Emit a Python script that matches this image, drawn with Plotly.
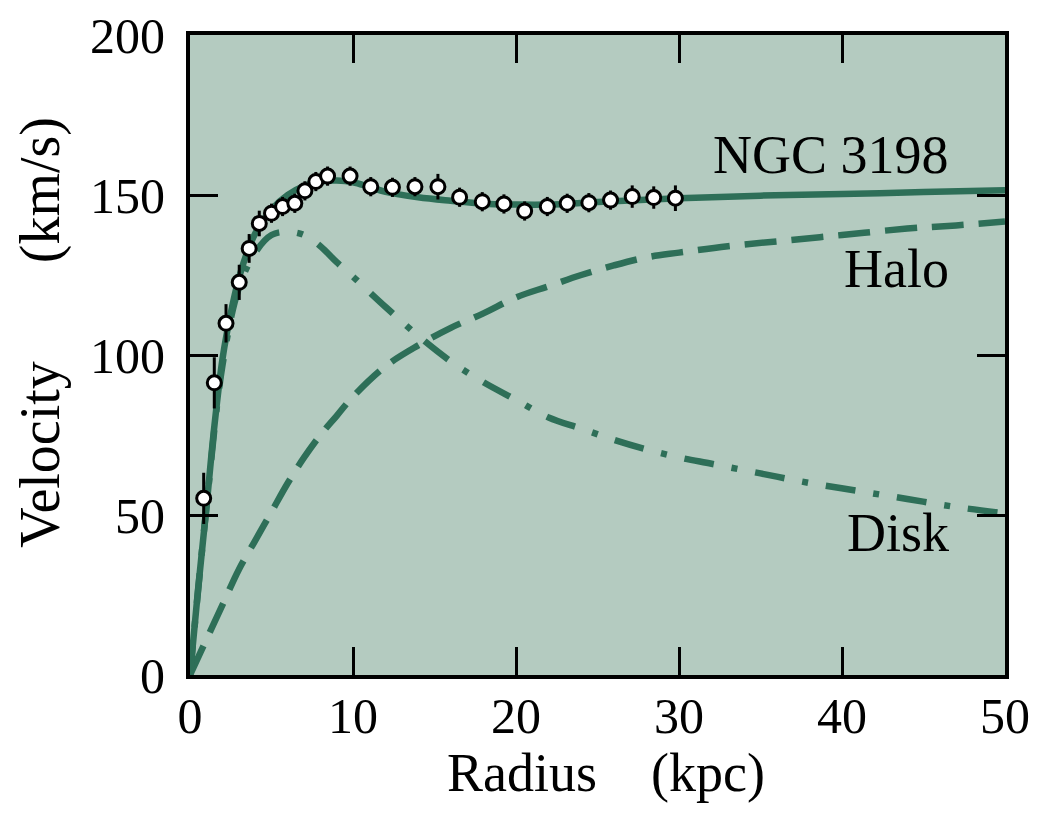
import plotly.graph_objects as go

# Observed rotation curve data (NGC 3198)
obs_r = [0.84, 1.49, 2.21, 3.02, 3.63, 4.25, 5.0, 5.68, 6.43, 7.05, 7.72, 8.44, 9.82, 11.09,
         12.42, 13.8, 15.21, 16.54, 17.93, 19.26, 20.53, 21.92, 23.14, 24.47, 25.8, 27.13, 28.45, 29.78]
obs_v = [55.2, 91.3, 109.9, 122.7, 133.3, 141.1, 144.3, 146.4, 147.4, 151.3, 154.2, 155.9, 155.9, 152.6,
         152.4, 152.6, 152.6, 149.3, 147.9, 147.2, 145.0, 146.4, 147.4, 147.6, 148.4, 149.5, 149.2, 149.0]
obs_err = [8, 8, 6, 5.5, 4.5, 4, 3, 3, 3, 3, 3, 3, 3, 3,
           3, 3, 4, 3, 3, 3, 3, 3, 3, 3, 3, 3.5, 3.5, 4]

# Model curves
total_r = [0, 0.5, 1, 1.5, 2, 2.5, 3, 3.5, 4, 4.5, 5, 6, 7, 8, 9, 10, 11, 12, 14, 16, 18, 20, 22, 25, 30, 35, 40, 45, 50]
total_v = [0, 27, 52, 78, 99, 113, 124, 132, 138, 142, 145.5, 150, 152.8, 154.2, 154.5, 154, 152.5, 151, 149.3,
           148.2, 147.3, 147, 147, 147.8, 149, 149.8, 150.3, 150.9, 151.5]

disk_r = [0, 1, 2, 3, 4, 5, 6, 7, 8, 9, 10, 11, 12, 14, 16, 18, 20, 22, 24, 26, 28, 30, 32, 35, 38, 41, 44, 47, 50]
disk_v = [0, 52, 97, 121, 132, 137.5, 138.5, 137.5, 134, 129, 124.5, 119.7, 115, 106, 98, 91.5, 86, 80.5,
          77, 73.5, 70.5, 68, 66, 63, 60, 57.5, 55, 52.5, 50.5]

halo_r = [0, 1, 2, 3, 4, 5, 6, 7, 8, 9, 10, 12, 14, 16, 18, 20, 22, 24, 26, 28, 30, 33, 36, 40, 44, 47, 50]
halo_v = [0, 11, 22, 33, 42, 51, 60, 68, 75, 81, 87, 96.5, 103, 108.5, 113, 118, 121.5, 125, 128, 130.5,
          132, 134, 135.5, 137.5, 139.5, 140.5, 141.7]

labels = ["NGC 3198", "Halo", "Disk"]
label_r = [46.7, 46.7, 46.7]
label_v = [152.5, 116.9, 34.5]

x_ticks = [0, 10, 20, 30, 40, 50]
y_ticks = [0, 50, 100, 150, 200]

GREEN = "#2e6f58"
FONT = "Liberation Serif"
NB = "\u00a0"

fig = go.Figure()
fig.add_trace(go.Scatter(x=halo_r, y=halo_v, mode="lines",
                         line=dict(color=GREEN, width=6.5, dash="32px,15px", shape="spline"),
                         showlegend=False, hoverinfo="skip"))
fig.add_trace(go.Scatter(x=disk_r, y=disk_v, mode="lines",
                         line=dict(color=GREEN, width=6.5, dash="30px,18px,6px,18px", shape="spline"),
                         showlegend=False, hoverinfo="skip"))
fig.add_trace(go.Scatter(x=total_r, y=total_v, mode="lines",
                         line=dict(color=GREEN, width=6.5, shape="spline"),
                         showlegend=False, hoverinfo="skip"))
fig.add_trace(go.Scatter(x=obs_r, y=obs_v, mode="markers",
                         error_y=dict(type="data", array=obs_err, visible=True, color="black", thickness=3, width=0),
                         marker=dict(size=14, color="white", line=dict(color="black", width=3)),
                         showlegend=False))

for t, rr, vv in zip(labels, label_r, label_v):
    fig.add_annotation(x=rr, y=vv, text=t, showarrow=False, xanchor="right", yanchor="bottom",
                       font=dict(family=FONT, size=54, color="black"))

# axis titles as annotations
fig.add_annotation(xref="paper", yref="paper", x=0.51, y=-0.203, xanchor="center", yanchor="bottom",
                   text="Radius" + NB * 4 + "(kpc)", showarrow=False,
                   font=dict(family=FONT, size=54, color="black"))
fig.add_annotation(xref="paper", yref="paper", x=-0.183, y=0.536, xanchor="center", yanchor="middle",
                   text="Velocity" + NB * 7 + "(km/s)", textangle=-90, showarrow=False,
                   font=dict(family=FONT, size=56, color="black"))

axis_common = dict(showline=True, linecolor="black", linewidth=4, mirror="allticks",
                   ticks="inside", ticklen=28, tickwidth=2.5, tickcolor="black",
                   showgrid=False, zeroline=False, automargin=False, ticklabeloverflow="allow",
                   tickfont=dict(family=FONT, size=50, color="black"))

fig.update_xaxes(range=[0, 50], tickvals=x_ticks, ticktext=[str(v) for v in x_ticks],
                 ticklabelstandoff=-6, **axis_common)
fig.update_yaxes(range=[0, 200], tickvals=y_ticks, ticktext=[str(v) for v in y_ticks],
                 ticklabelstandoff=11, **axis_common)

# page body has an 8px default margin, so the figure is offset accordingly
fig.update_layout(width=1040, height=810, margin=dict(l=182, r=43, t=27, b=143),
                  paper_bgcolor="white", plot_bgcolor="#b4cbc0")

fig.write_html("out.html")
